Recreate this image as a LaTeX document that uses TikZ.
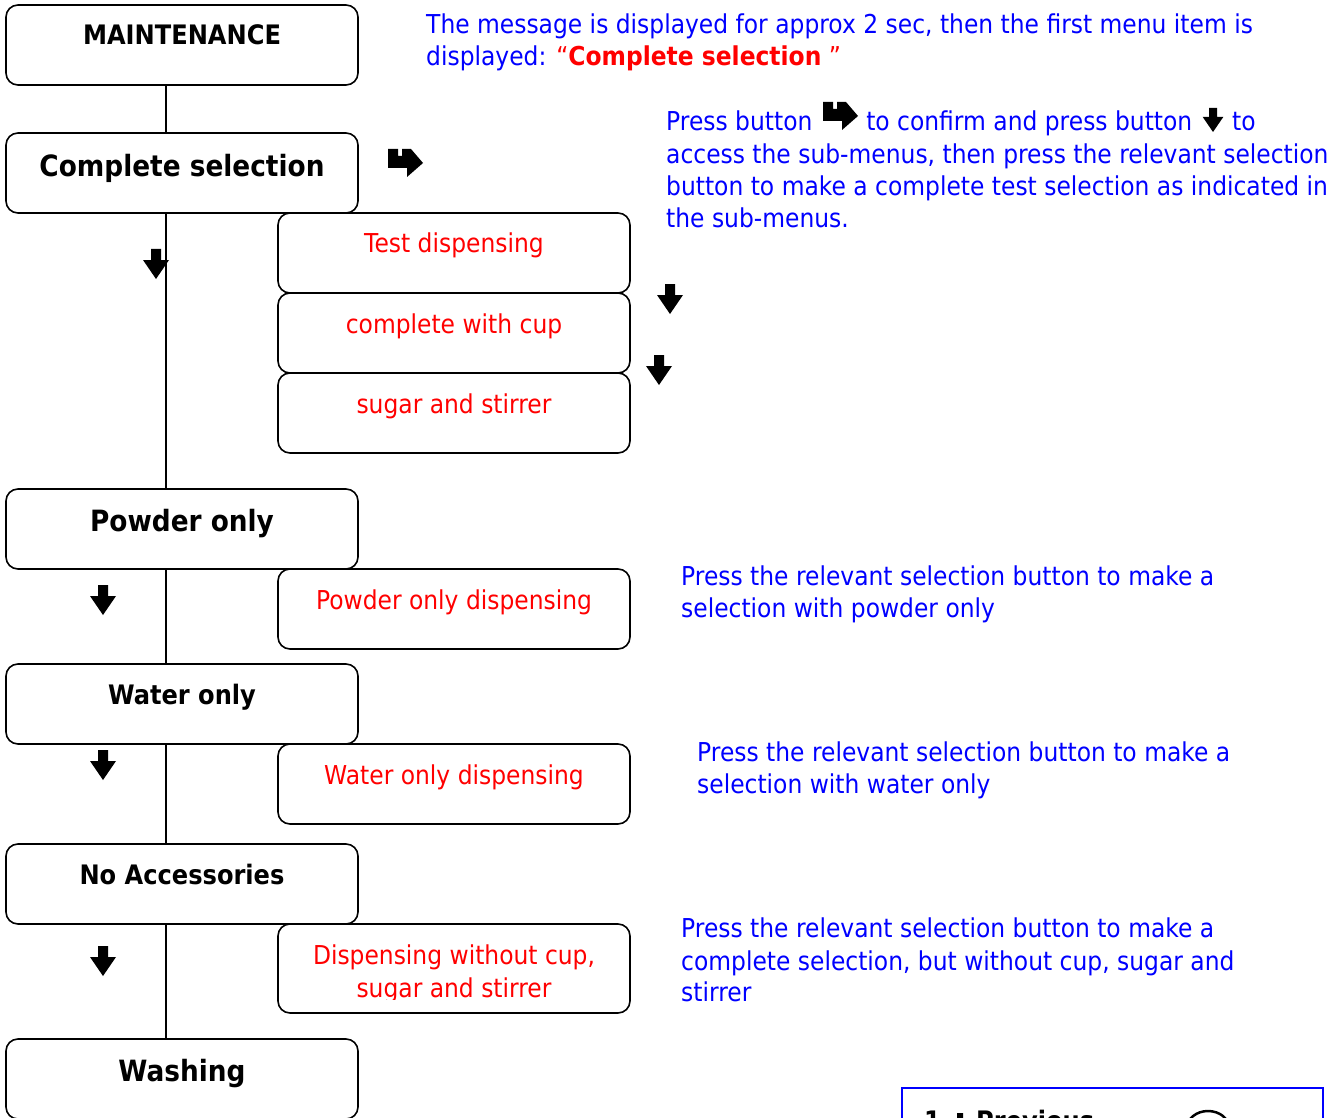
\documentclass[tikz,border=0pt]{standalone}
\usepackage{fontspec}
\setmainfont{DejaVu Sans}[FakeStretch=0.9]
\usetikzlibrary{calc}
\definecolor{txtblue}{RGB}{0,0,255}
\definecolor{txtred}{RGB}{255,0,0}

\begin{document}
\begin{tikzpicture}[x=1pt,y=-1pt,
  menubox/.style={draw=black, line width=1.6pt, rounded corners=12pt, fill=white,
    minimum width=352pt, minimum height=80pt, inner sep=0pt},
  menutitle/.style={anchor=base, inner sep=0pt, font=\fontsize{26.8}{32}\selectfont\bfseries},
  bigtitle/.style={anchor=base, inner sep=0pt, font=\fontsize{29.3}{36}\selectfont\bfseries},
  subtitle/.style={anchor=base, inner sep=0pt, text=txtred, font=\fontsize{26}{32}\selectfont},
  note/.style={anchor=base west, inner sep=0pt, text=txtblue, font=\fontsize{26}{32}\selectfont},
  link/.style={draw=black, line width=1.6pt},
  dnarrow/.pic={\fill[black] (-5,-15) -- (5,-15) -- (5,-4) -- (13,-4) -- (0,15)
     -- (-13,-4) -- (-5,-4) -- cycle;},
  hookarrow/.pic={\fill[black] (-17,-14) -- (-7,-14) -- (-7,-7) -- (-3,-7) -- (-3,-14)
     -- (6,-14) -- (18,0) -- (2,14) -- (2,5) -- (-17,5) -- cycle;}
]
\useasboundingbox (0,0) rectangle (1344,1118);
\begin{scope}
\clip (0,0) rectangle (1344,1118);

% spine of the menu tree
\coordinate (spine) at (166,0);

% main menu entries
\node[menubox] (maint)   at (182,45)   {};
\node[menubox] (compl)   at (182,173)  {};
\node[menubox] (powder)  at (182,529)  {};
\node[menubox] (water)   at (182,704)  {};
\node[menubox] (noacc)   at (182,884)  {};
\node[menubox] (wash)    at (182,1079) {};

\draw[link] (maint.south -| spine)  -- (compl.north -| spine);
\draw[link] (compl.south -| spine)  -- (powder.north -| spine);
\draw[link] (powder.south -| spine) -- (water.north -| spine);
\draw[link] (water.south -| spine)  -- (noacc.north -| spine);
\draw[link] (noacc.south -| spine)  -- (wash.north -| spine);

\node[menutitle] (maintT)  at (182,45)   {MAINTENANCE};
\node[bigtitle]  (complT)  at (182,177)  {Complete selection};
\node[bigtitle]  (powderT) at (182,531)  {Powder only};
\node[menutitle] (waterT)  at (182,704)  {Water only};
\node[menutitle] (noaccT)  at (182,884)  {No Accessories};
\node[bigtitle]  (washT)   at (182,1081) {Washing};

% sub-menu entries
\node[menubox] (test)    at (454,253) {};
\node[menubox] (cup)     at (454,333) {};
\node[menubox] (sugar)   at (454,413) {};
\node[menubox] (powdsp)  at (454,609) {};
\node[menubox] (watdsp)  at (454,784) {};
\node[menubox, minimum height=89pt] (nocup) at (454,968.5) {};

\node[subtitle] (testT)   at (454,253) {Test dispensing};
\node[subtitle] (cupT)    at (454,333) {complete with cup};
\node[subtitle] (sugarT)  at (454,413) {sugar and stirrer};
\node[subtitle] (powdspT) at (454,609) {Powder only dispensing};
\node[subtitle] (watdspT) at (454,784) {Water only dispensing};
\begin{scope}
  \clip (280,926) rectangle (628,999);
  \node[subtitle] (nocupA) at (454,964) {Dispensing without cup,};
  \node[subtitle] (nocupB) at (454,997) {sugar and stirrer};
\end{scope}

% navigation symbols
\pic at (405,163) {hookarrow};
\pic at (156,264) {dnarrow};
\pic at (670,299) {dnarrow};
\pic at (659,370) {dnarrow};
\pic at (103,600) {dnarrow};
\pic at (103,765) {dnarrow};
\pic at (103,961) {dnarrow};

% explanatory notes
\node[note] (n1a) at (426,34) {The message is displayed for approx 2 sec, then the first menu item is};
\node[note] (n1b) at (426,66) {displayed: \textcolor{txtred}{“\textbf{Complete selection} ”}};

\node[note] (n2a) at (666,131) {Press button \hspace{39pt} to confirm and press button \hspace{25pt} to};
\pic at (840,116) {hookarrow};
\pic[scale=0.8] at (1213,120) {dnarrow};
\node[note] (n2b) at (666,164) {access the sub-menus, then press the relevant selection};
\node[note] (n2c) at (666,196) {button to make a complete test selection as indicated in};
\node[note] (n2d) at (666,228) {the sub-menus.};

\node[note] (n3a) at (681,585) {Press the relevant selection button to make a};
\node[note] (n3b) at (681,617) {selection with powder only};

\node[note] (n4a) at (697,761) {Press the relevant selection button to make a};
\node[note] (n4b) at (697,793) {selection with water only};

\node[note] (n5a) at (681,937)  {Press the relevant selection button to make a};
\node[note] (n5b) at (681,970)  {complete selection, but without cup, sugar and};
\node[note] (n5c) at (681,1001) {stirrer};

% display panel at the foot of the page
\draw[txtblue, line width=2pt] (902,1130) -- (902,1088) -- (1323,1088) -- (1323,1130);
\node[menutitle, anchor=base west] (pnum) at (924,1130) {1};
\pic[scale=0.6] at (960,1122) {dnarrow};
\node[menutitle, anchor=base west] (pprev) at (976,1130) {Previous};
\draw[black, line width=2.5pt] (1208,1128) ellipse [x radius=21, y radius=17];
\end{scope}
\end{tikzpicture}
\end{document}
